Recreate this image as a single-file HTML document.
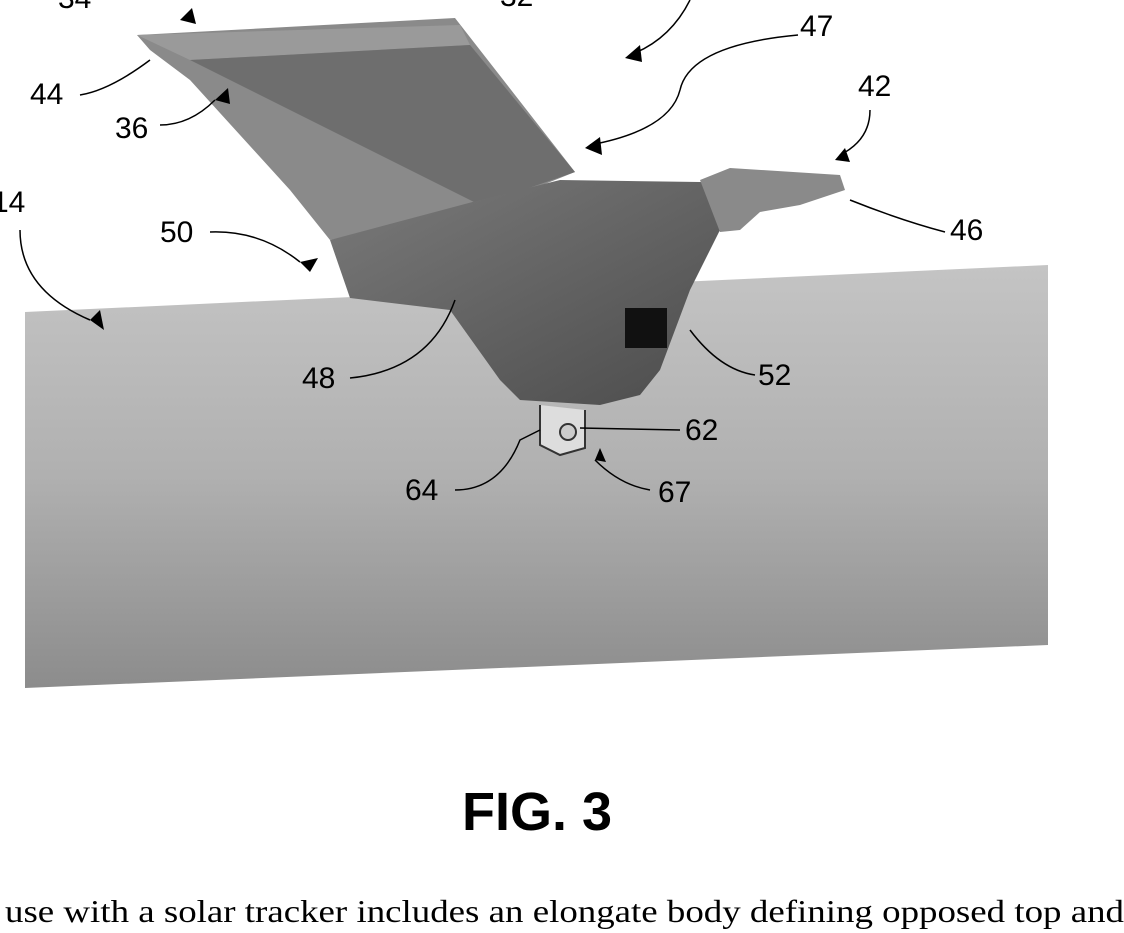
<!DOCTYPE html>
<html><head><meta charset="utf-8"><style>
html,body{margin:0;padding:0;background:#fff;}
svg{display:block;}
text{font-family:"Liberation Sans",sans-serif;}
</style></head><body>
<svg width="1124" height="933" viewBox="0 0 1124 933" xmlns="http://www.w3.org/2000/svg">
<defs>
<linearGradient id="g" x1="0" y1="0" x2="0" y2="1">
<stop offset="0" stop-color="#c4c4c4"/><stop offset="0.5" stop-color="#b0b0b0"/><stop offset="1" stop-color="#8c8c8c"/>
</linearGradient>
<linearGradient id="b" x1="0" y1="0" x2="1" y2="1">
<stop offset="0" stop-color="#7a7a7a"/><stop offset="1" stop-color="#4a4a4a"/>
</linearGradient>
</defs>
<polygon points="25,312 1048,265 1048,645 25,688" fill="url(#g)"/>
<polygon points="137,35 455,18 575,172 480,210 330,240 290,190 190,80 150,50" fill="#8a8a8a"/>
<polygon points="137,35 460,25 470,45 190,60" fill="#9a9a9a"/>
<polygon points="190,60 470,45 575,172 480,205" fill="#6e6e6e"/>
<path d="M330,240 L480,200 L560,180 L700,182 L760,185 L720,230 L690,290 L660,370 L640,395 L600,405 L520,400 L500,380 L450,310 L350,298 Z" fill="url(#b)"/>
<path d="M700,180 L730,168 L840,175 L845,190 L800,205 L760,212 L740,230 L720,232 Z" fill="#8a8a8a"/>
<rect x="625" y="308" width="42" height="40" fill="#111"/>
<path d="M540,405 L540,445 L560,455 L585,448 L585,410" fill="#ddd" stroke="#333" stroke-width="2"/>
<circle cx="568" cy="432" r="8" fill="#ccc" stroke="#333" stroke-width="2"/>
<g fill="none" stroke="#000" stroke-width="1.5">
<path d="M80,95 Q110,90 150,60"/>
<path d="M160,125 Q190,125 215,100"/>
<path d="M210,232 Q260,230 300,262"/>
<path d="M350,378 Q430,370 455,300"/>
<path d="M755,375 Q720,370 690,330"/>
<path d="M680,430 L580,428"/>
<path d="M455,490 Q500,490 520,440 L540,430"/>
<path d="M650,490 Q620,485 595,460"/>
<path d="M945,232 Q900,220 850,200"/>
<path d="M870,110 Q870,140 840,155"/>
<path d="M798,35 Q690,45 680,90 Q670,130 590,145"/>
<path d="M690,0 Q670,40 630,55"/>
<path d="M20,230 Q20,290 90,320"/>
</g>
<g fill="#000">
<polygon points="835,160 845,148 850,162"/>
<polygon points="585,148 600,137 602,155"/>
<polygon points="625,58 640,45 642,62"/>
<polygon points="300,262 318,258 310,272"/>
<polygon points="90,320 100,310 104,330"/>
<polygon points="215,100 228,88 230,104"/>
<polygon points="180,20 192,8 196,24"/>
<polygon points="595,460 600,448 606,462"/>
</g>
<g font-size="30" fill="#000">
<text x="58" y="8">34</text>
<text x="500" y="6">32</text>
<text x="30" y="104">44</text>
<text x="115" y="138">36</text>
<text x="800" y="36">47</text>
<text x="858" y="96">42</text>
<text x="-8" y="212">14</text>
<text x="160" y="242">50</text>
<text x="950" y="240">46</text>
<text x="302" y="388">48</text>
<text x="758" y="385">52</text>
<text x="685" y="440">62</text>
<text x="405" y="500">64</text>
<text x="658" y="502">67</text>
</g>
<text x="537" y="830" font-size="54" font-weight="bold" text-anchor="middle">FIG. 3</text>
<text x="5" y="922" font-size="32" textLength="1119" lengthAdjust="spacingAndGlyphs" style="font-family:'Liberation Serif',serif">use with a solar tracker includes an elongate body defining opposed top and</text>
</svg>
</body></html>
